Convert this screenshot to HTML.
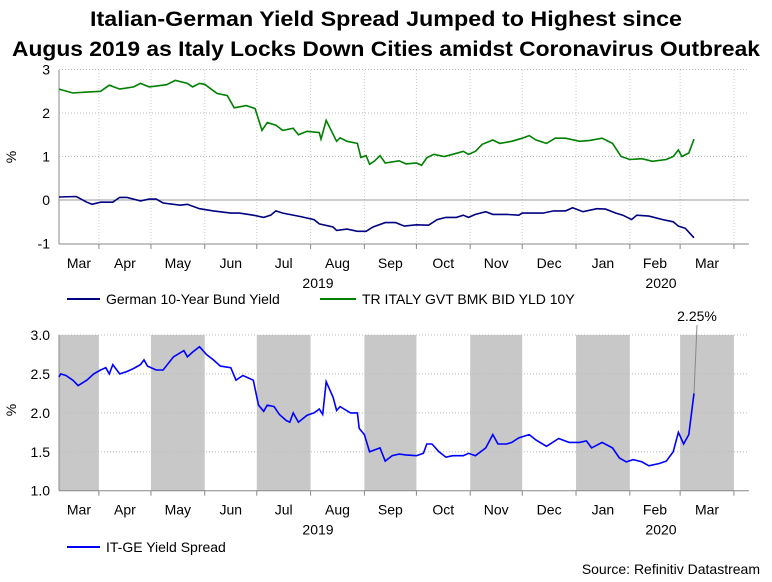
<!DOCTYPE html>
<html><head><meta charset="utf-8"><style>
body{margin:0;background:#fff;}
svg text{font-family:"Liberation Sans",Arial,sans-serif;}
</style></head><body>
<svg id="c" width="772" height="577" xmlns="http://www.w3.org/2000/svg">
<text x="386" y="26" text-anchor="middle" font-size="21" font-weight="bold" fill="#000" textLength="592" lengthAdjust="spacingAndGlyphs">Italian-German Yield Spread Jumped to Highest since</text>
<text x="386" y="56" text-anchor="middle" font-size="21" font-weight="bold" fill="#000" textLength="748" lengthAdjust="spacingAndGlyphs">Augus 2019 as Italy Locks Down Cities amidst Coronavirus Outbreak</text>
<g id="topPanel"></g>
<g id="botPanel"></g>
<text x="760" y="574" text-anchor="end" font-size="14" fill="#000">Source: Refinitiv Datastream</text>
</svg>
<script>
// days since 2019-03-09
const monthLabels=["Mar","Apr","May","Jun","Jul","Aug","Sep","Oct","Nov","Dec","Jan","Feb","Mar"];
const monthStartDays=[-8,23,53,84,114,145,176,206,237,267,298,329,358,389];
const topTicks=[-1,0,1,2,3];
const botTicks=["1.0","1.5","2.0","2.5","3.0"];
const itDays=[0,8,16,24,29,35,43,47,52,62,67,74,77,81,84,91,97,101,108,113,117,120,125,129,135,138,143,150,151,154,160,162,166,172,174,177,179,182,185,188,196,200,206,209,212,216,222,227,233,236,240,244,250,254,261,267,271,275,281,286,292,300,306,313,319,324,329,336,342,350,354,357,359,363,366];
const itVals=[2.55,2.46,2.48,2.5,2.64,2.55,2.6,2.68,2.6,2.65,2.75,2.68,2.6,2.68,2.66,2.45,2.4,2.12,2.17,2.1,1.6,1.78,1.72,1.6,1.65,1.5,1.58,1.55,1.4,1.83,1.35,1.43,1.35,1.3,0.98,1.02,0.82,0.9,1.02,0.85,0.9,0.83,0.85,0.8,0.97,1.05,1.0,1.05,1.12,1.05,1.12,1.28,1.38,1.3,1.35,1.42,1.48,1.38,1.3,1.42,1.42,1.35,1.37,1.42,1.3,1.0,0.93,0.95,0.89,0.93,1.0,1.15,1.0,1.08,1.4];
const deDays=[0,10,16,19,24,31,35,39,47,52,56,60,70,74,81,89,99,104,112,118,122,125,129,139,147,150,158,160,166,172,177,181,188,194,199,206,213,218,223,229,233,236,240,246,250,258,265,267,273,279,285,292,296,302,310,315,321,325,330,333,340,348,354,357,361,366];
const deVals=[0.07,0.08,-0.05,-0.1,-0.05,-0.05,0.06,0.06,-0.02,0.02,0.02,-0.07,-0.12,-0.1,-0.2,-0.25,-0.3,-0.3,-0.35,-0.4,-0.35,-0.25,-0.3,-0.38,-0.45,-0.55,-0.62,-0.7,-0.67,-0.72,-0.72,-0.62,-0.52,-0.52,-0.6,-0.57,-0.58,-0.45,-0.4,-0.4,-0.35,-0.4,-0.33,-0.27,-0.33,-0.33,-0.35,-0.3,-0.3,-0.3,-0.25,-0.25,-0.18,-0.27,-0.2,-0.21,-0.3,-0.35,-0.45,-0.35,-0.37,-0.45,-0.5,-0.6,-0.65,-0.87];
const spDays=[0,1,4,8,11,16,20,24,27,29,31,35,39,43,47,49,51,56,60,66,72,74,77,81,85,89,93,99,102,106,112,115,118,120,124,127,131,133,135,138,143,147,150,152,154,158,160,162,168,172,173,176,179,185,188,192,196,200,206,210,212,215,219,223,227,233,236,240,246,250,253,258,261,265,271,275,281,288,294,300,304,307,313,319,323,327,331,336,340,346,350,354,357,360,363,366];
const spVals=[2.46,2.5,2.48,2.42,2.35,2.42,2.5,2.55,2.58,2.5,2.62,2.5,2.53,2.57,2.62,2.68,2.6,2.55,2.55,2.72,2.8,2.72,2.78,2.85,2.75,2.68,2.6,2.58,2.42,2.48,2.42,2.1,2.02,2.1,2.08,1.98,1.9,1.88,2.0,1.88,1.97,2.0,2.05,1.98,2.4,2.2,2.03,2.08,2.0,2.0,1.8,1.72,1.5,1.55,1.38,1.45,1.47,1.46,1.45,1.48,1.6,1.6,1.5,1.43,1.45,1.45,1.48,1.45,1.55,1.72,1.6,1.6,1.62,1.68,1.72,1.65,1.57,1.67,1.62,1.62,1.64,1.55,1.62,1.55,1.42,1.37,1.4,1.37,1.32,1.35,1.38,1.5,1.75,1.6,1.72,2.25];
const NS="http://www.w3.org/2000/svg";
const L=59,R=749;
const xDay=d=>59+d*1.735;
const yTop=v=>200-v*43.5;
const yBot=v=>490.7-(v-1)*77.85;
function mk(tag,attrs,parent,txt){const e=document.createElementNS(NS,tag);for(const k in attrs)e.setAttribute(k,attrs[k]);if(txt!==undefined)e.textContent=txt;parent.appendChild(e);return e;}
function linePath(days,vals,yf){return days.map((d,i)=>(i?'L':'M')+xDay(d).toFixed(1)+','+yf(vals[i]).toFixed(1)).join('');}
function monthAxis(g,yAxis){
  for(let i=1;i<monthStartDays.length;i++){
    const x=xDay(monthStartDays[i]);
    if(x<=R){const t=mk('line',{x1:x,y1:yAxis,x2:x,y2:yAxis+5,stroke:'#888'},g);
    
    }
  }
  for(let i=0;i<monthLabels.length;i++){
    const a=Math.max(xDay(monthStartDays[i]),L),b=Math.min(xDay(monthStartDays[i+1]),R);
    const t=mk('text',{x:(a+b)/2,y:yAxis+24,'text-anchor':'middle','font-size':14,fill:'#000'},g,monthLabels[i]);
    
    
  }
  const y1=mk('text',{x:318,y:yAxis+44,'text-anchor':'middle','font-size':14},g,'2019');
  
  
  const y2=mk('text',{x:661,y:yAxis+44,'text-anchor':'middle','font-size':14},g,'2020');
  
  
}
// TOP
const topG=document.getElementById('topPanel');
for(let i=1;i<monthStartDays.length;i++){const x=xDay(monthStartDays[i]);if(x<R){const g=mk('line',{x1:x,y1:70,x2:x,y2:244,stroke:'#ccc','stroke-dasharray':'1,2'},topG);

}}
topTicks.forEach(v=>{const y=yTop(v);
 if(v!==0&&v!==-1){const g=mk('line',{x1:L,y1:y,x2:R,y2:y,stroke:'#bbb','stroke-dasharray':'1,2'},topG);
 
 }
 const t=mk('text',{x:50,y:y+5,'text-anchor':'end','font-size':14},topG,String(v));
 
 });
const z=mk('line',{x1:L,y1:yTop(0),x2:R,y2:yTop(0),stroke:'#999'},topG);


const ya=mk('line',{x1:L,y1:70,x2:L,y2:244,stroke:'#888'},topG);


const xa=mk('line',{x1:L,y1:244,x2:R,y2:244,stroke:'#888'},topG);


monthAxis(topG,244);
const yt=mk('text',{x:16,y:157,'text-anchor':'middle','font-size':14,transform:'rotate(-90 16 157)'},topG,'%');


const itL=mk('path',{d:linePath(itDays,itVals,yTop),fill:'none',stroke:'#008000','stroke-width':1.6},topG);


const deL=mk('path',{d:linePath(deDays,deVals,yTop),fill:'none',stroke:'#000080','stroke-width':1.6},topG);


const s1=mk('line',{x1:67,y1:299,x2:100,y2:299,stroke:'#000080','stroke-width':2},topG);


const lg1=mk('text',{x:106,y:304,'font-size':14},topG,'German 10-Year Bund Yield');


const s2=mk('line',{x1:320,y1:299,x2:356,y2:299,stroke:'#008000','stroke-width':2},topG);


const lg2=mk('text',{x:362,y:304,'font-size':14},topG,'TR ITALY GVT BMK BID YLD 10Y');


// BOTTOM
const botG=document.getElementById('botPanel');
for(let i=0;i<monthStartDays.length-1;i+=2){
 const a=Math.max(xDay(monthStartDays[i]),L),b=Math.min(xDay(monthStartDays[i+1]),R);
 const r=mk('rect',{x:a,y:yBot(3),width:b-a,height:yBot(1)-yBot(3),fill:'#c8c8c8'},botG);
 
 
}
botTicks.forEach(s=>{const v=parseFloat(s),y=yBot(v);
 if(v>1){const g=mk('line',{x1:L,y1:y,x2:R,y2:y,stroke:'#bbb','stroke-dasharray':'1,2'},botG);
 
 }
 const t=mk('text',{x:50,y:y+5,'text-anchor':'end','font-size':14},botG,s);
 
 });
const ya2=mk('line',{x1:L,y1:yBot(3),x2:L,y2:yBot(1),stroke:'#888'},botG);


const xa2=mk('line',{x1:L,y1:yBot(1),x2:R,y2:yBot(1),stroke:'#888'},botG);


monthAxis(botG,yBot(1));
const yt2=mk('text',{x:16,y:410,'text-anchor':'middle','font-size':14,transform:'rotate(-90 16 410)'},botG,'%');


const spL=mk('path',{d:linePath(spDays,spVals,yBot),fill:'none',stroke:'#0000ff','stroke-width':1.6},botG);


const lastX=xDay(spDays[spDays.length-1]),lastY=yBot(spVals[spVals.length-1]);
const ld=mk('line',{x1:lastX,y1:lastY,x2:697,y2:325,stroke:'#888'},botG);


const an=mk('text',{x:697,y:321,'text-anchor':'middle','font-size':14},botG,spVals[spVals.length-1].toFixed(2)+'%');


const s3=mk('line',{x1:67,y1:547,x2:100,y2:547,stroke:'#0000ff','stroke-width':2},botG);


const lg3=mk('text',{x:106,y:552,'font-size':14},botG,'IT-GE Yield Spread');


</script>
</body></html>
